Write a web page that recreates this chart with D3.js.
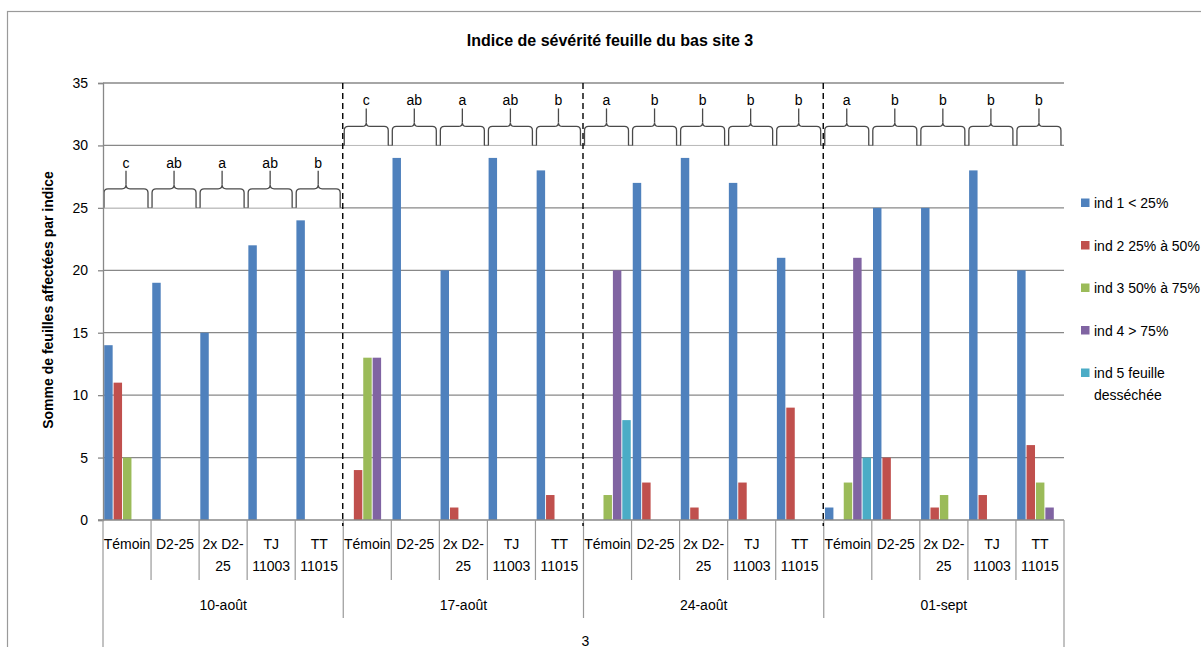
<!DOCTYPE html>
<html>
<head>
<meta charset="utf-8">
<script src="https://cdn.jsdelivr.net/npm/d3@7"></script>
<style>
  body { margin: 0; background: #ffffff; }
  text { font-family: "Liberation Sans", Arial, sans-serif; fill: #000000; }
</style>
</head>
<body>
<svg id="chart" width="1201" height="647"></svg>
<script>
/*
 * Indice de sévérité feuille du bas - site 3
 * grouped bars (5 indices) per treatment, per date, with letter braces on top
 */

// ---- data ----
var dates = ["10-août", "17-août", "24-août", "01-sept"];
var treatments = ["Témoin", "D2-25", "2x D2-25", "TJ 11003", "TT 11015"];
var treatLines = [["Témoin"], ["D2-25"], ["2x D2-", "25"], ["TJ", "11003"], ["TT", "11015"]];
var seriesNames = ["ind 1 < 25%", "ind 2 25% à 50%", "ind 3 50% à 75%", "ind 4 > 75%", "ind 5 feuille desséchée"];
var legendLines = [["ind 1 < 25%"], ["ind 2 25% à 50%"], ["ind 3 50% à 75%"], ["ind 4 > 75%"], ["ind 5 feuille", "desséchée"]];
var seriesColors = ["#4f81bd", "#c0504d", "#9bbb59", "#8064a2", "#4bacc6"];

// one value per treatment, dates in order (5 x 4 = 20)
var ind1 = [14, 19, 15, 22, 24,  0, 29, 20, 29, 28,  0, 27, 29, 27, 21,  1, 25, 25, 28, 20];
var ind2 = [11,  0,  0,  0,  0,  4,  0,  1,  0,  2,  0,  3,  1,  3,  9,  0,  5,  1,  2,  6];
var ind3 = [ 5,  0,  0,  0,  0, 13,  0,  0,  0,  0,  2,  0,  0,  0,  0,  3,  0,  2,  0,  3];
var ind4 = [ 0,  0,  0,  0,  0, 13,  0,  0,  0,  0, 20,  0,  0,  0,  0, 21,  0,  0,  0,  1];
var ind5 = [ 0,  0,  0,  0,  0,  0,  0,  0,  0,  0,  8,  0,  0,  0,  0,  5,  0,  0,  0,  0];
var seriesValues = [ind1, ind2, ind3, ind4, ind5];

// statistical letters above each treatment, and the value the braces sit on
var letters10 = ["c", "ab", "a", "ab", "b"];
var letters17 = ["c", "ab", "a", "ab", "b"];
var letters24 = ["a", "b", "b", "b", "b"];
var letters01 = ["a", "b", "b", "b", "b"];
var braceBase = [25, 30, 30, 30];
var yTicks = [0, 5, 10, 15, 20, 25, 30, 35];
var siteLabel = "3";

// ---- setup ----
var svg = d3.select("#chart");
var plotLeft = 103, plotRight = 1064, plotTop = 83, plotBottom = 520;

var x0 = d3.scaleBand().domain(dates).range([plotLeft, plotRight]);
var x1 = d3.scaleBand().domain(treatments).range([0, x0.bandwidth()]);
var x2 = d3.scaleBand().domain(d3.range(seriesNames.length))
    .range([1.2, x1.bandwidth() - 0.8]).paddingInner(0.1);
var y = d3.scaleLinear().domain([0, 35]).range([plotBottom, plotTop]);

// flat records, one per bar
var bars = [];
dates.forEach(function(dt, di) {
    treatments.forEach(function(tr, ti) {
        seriesValues.forEach(function(vals, si) {
            var v = vals[di * treatments.length + ti];
            if (v > 0) bars.push({date: dt, treat: tr, s: si, value: v});
        });
    });
});

// outer frame
svg.append("rect").attr("x", 7.5).attr("y", 11.5).attr("width", 1300).attr("height", 800)
    .style("fill", "none").style("stroke", "#9a9a9a").style("stroke-width", 1.2);

// title
svg.append("text").attr("x", 610).attr("y", 46).attr("text-anchor", "middle")
    .style("font-size", "16px").style("font-weight", "bold")
    .text("Indice de sévérité feuille du bas site 3");

// gridlines
svg.append("g").selectAll("line").data(yTicks.slice(1)).enter().append("line")
    .attr("x1", plotLeft).attr("x2", plotRight)
    .attr("y1", function(d) { return y(d); }).attr("y2", function(d) { return y(d); })
    .style("stroke", "#888888").style("stroke-width", 1.3);

// braces with letters
var braceData = [];
[letters10, letters17, letters24, letters01].forEach(function(lets, di) {
    lets.forEach(function(l, ti) {
        braceData.push({date: dates[di], treat: treatments[ti], letter: l, base: braceBase[di]});
    });
});

var bracePath = function(xa, xb, yb, closed) {
    var yh = yb - 19, xc = (xa + xb) / 2, r = 4;
    var p = "M" + xa + "," + yb + " L" + xa + "," + (yh + r) +
        " Q" + xa + "," + yh + " " + (xa + r) + "," + yh +
        " L" + (xc - r) + "," + yh +
        " Q" + xc + "," + yh + " " + xc + "," + (yh - r) +
        " Q" + xc + "," + yh + " " + (xc + r) + "," + yh +
        " L" + (xb - r) + "," + yh +
        " Q" + xb + "," + yh + " " + xb + "," + (yh + r) +
        " L" + xb + "," + yb;
    return closed ? p + " Z" : p;
};

var braces = svg.append("g").selectAll("g").data(braceData).enter().append("g");
braces.append("path")
    .attr("d", function(d) {
        var xa = x0(d.date) + x1(d.treat) + 1;
        return bracePath(xa, xa + 44, y(d.base), true);
    })
    .style("fill", "#ffffff").style("fill-opacity", 0.85).style("stroke", "none");
braces.append("path")
    .attr("d", function(d) {
        var xa = x0(d.date) + x1(d.treat) + 1;
        return bracePath(xa, xa + 44, y(d.base), false);
    })
    .style("fill", "none").style("stroke", "#4a4a4a").style("stroke-width", 1.3);
braces.append("line")
    .attr("x1", function(d) { return x0(d.date) + x1(d.treat) + 23; })
    .attr("x2", function(d) { return x0(d.date) + x1(d.treat) + 23; })
    .attr("y1", function(d) { return y(d.base) - 23; })
    .attr("y2", function(d) { return y(d.base) - 37; })
    .style("stroke", "#4a4a4a").style("stroke-width", 1.3);
braces.append("text")
    .attr("x", function(d) { return x0(d.date) + x1(d.treat) + 23; })
    .attr("y", function(d) { return y(d.base) - 40; })
    .attr("text-anchor", "middle").style("font-size", "14px")
    .text(function(d) { return d.letter; });

// bars
svg.append("g").selectAll("rect").data(bars).enter().append("rect")
    .attr("x", function(d) { return x0(d.date) + x1(d.treat) + x2(d.s); })
    .attr("width", x2.bandwidth())
    .attr("y", function(d) { return y(d.value); })
    .attr("height", function(d) { return y(0) - y(d.value); })
    .style("fill", function(d) { return seriesColors[d.s]; });

// y axis
var yaxis = svg.append("g").attr("transform", "translate(" + plotLeft + ",0)")
    .call(d3.axisLeft(y).tickValues(yTicks).tickSize(5).tickPadding(10));
yaxis.select(".domain").style("stroke", "#888888").style("stroke-width", 1.3);
yaxis.selectAll(".tick line").style("stroke", "#888888").style("stroke-width", 1.3);
yaxis.selectAll(".tick text").style("font-size", "14px")
    .style("font-family", "'Liberation Sans', Arial, sans-serif").attr("fill", "#000000");

svg.append("text")
    .attr("transform", "translate(53,300) rotate(-90)")
    .attr("text-anchor", "middle").style("font-size", "14px").style("font-weight", "bold")
    .text("Somme de feuilles affectées par indice");

// x axis: baseline and multi-level category separators
svg.append("line").attr("x1", plotLeft - 5).attr("x2", plotRight).attr("y1", plotBottom).attr("y2", plotBottom)
    .style("stroke", "#888888").style("stroke-width", 1.3);

var seps = [];
dates.forEach(function(dt, di) {
    treatments.forEach(function(tr, ti) {
        var xx = x0(dt) + x1(tr);
        var yEnd = ti === 0 ? (di === 0 ? 647 : 618) : 580;
        seps.push({x: xx, y2: yEnd});
    });
});
seps.push({x: plotRight, y2: 647});
svg.append("g").selectAll("line").data(seps).enter().append("line")
    .attr("x1", function(d) { return d.x; }).attr("x2", function(d) { return d.x; })
    .attr("y1", plotBottom).attr("y2", function(d) { return d.y2; })
    .style("stroke", "#999999").style("stroke-width", 1.2);

// treatment labels (1 or 2 lines)
var catLabels = [];
dates.forEach(function(dt) {
    treatments.forEach(function(tr, ti) {
        catLabels.push({date: dt, treat: tr, lines: treatLines[ti]});
    });
});
var catText = svg.append("g").selectAll("text").data(catLabels).enter().append("text")
    .attr("x", function(d) { return x0(d.date) + x1(d.treat) + x1.bandwidth() / 2; })
    .attr("y", 549).attr("text-anchor", "middle").style("font-size", "14px");
catText.selectAll("tspan").data(function(d) { return d.lines; }).enter().append("tspan")
    .attr("x", function() { return d3.select(this.parentNode).attr("x"); })
    .attr("dy", function(d, i) { return i === 0 ? 0 : 22; })
    .text(function(d) { return d; });

// date labels
svg.append("g").selectAll("text").data(dates).enter().append("text")
    .attr("x", function(d) { return x0(d) + x0.bandwidth() / 2; })
    .attr("y", 610).attr("text-anchor", "middle").style("font-size", "14px")
    .text(function(d) { return d; });

svg.append("text").attr("x", (plotLeft + plotRight) / 2 + 2).attr("y", 646)
    .attr("text-anchor", "middle").style("font-size", "14px").text(siteLabel);

// dashed separators between dates
svg.append("g").selectAll("line").data(dates.slice(1)).enter().append("line")
    .attr("x1", function(d) { return x0(d) - 0.5; }).attr("x2", function(d) { return x0(d) - 0.5; })
    .attr("y1", plotTop).attr("y2", plotBottom + 6)
    .style("stroke", "#000000").style("stroke-width", 1.4).style("stroke-dasharray", "6,4");

// legend
var legend = svg.append("g").selectAll("g").data(legendLines).enter().append("g")
    .attr("transform", function(d, i) { return "translate(1081," + (203 + i * 42.5) + ")"; });
legend.append("rect").attr("x", 0).attr("y", -4.5).attr("width", 8.5).attr("height", 8.5)
    .style("fill", function(d, i) { return seriesColors[i]; });
var legText = legend.append("text").attr("x", 13).attr("y", 5).style("font-size", "14px");
legText.selectAll("tspan").data(function(d) { return d; }).enter().append("tspan")
    .attr("x", 13).attr("dy", function(d, i) { return i === 0 ? 0 : 22; })
    .text(function(d) { return d; });
</script>
</body>
</html>
